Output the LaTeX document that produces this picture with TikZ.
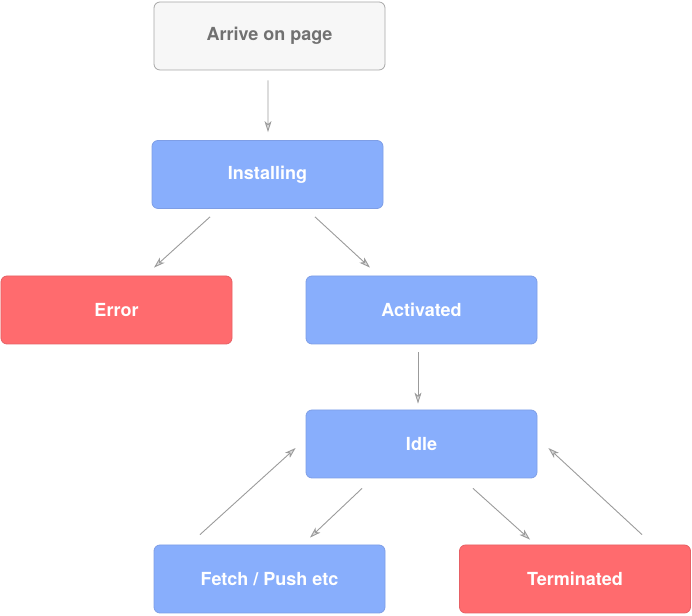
\documentclass[tikz,border=0pt]{standalone}
\usepackage{fontspec}
\setmainfont{TeX Gyre Heros}
\usepackage{tikz}
\usetikzlibrary{arrows.meta}
\usetikzlibrary{calc}

\definecolor{stateblue}{HTML}{88AEFC}
\definecolor{stateblueline}{HTML}{7E9EE6}
\definecolor{statered}{HTML}{FF6B6E}
\definecolor{stateredline}{HTML}{E66065}
\definecolor{startfill}{HTML}{F7F7F7}
\definecolor{startline}{HTML}{A6A6A6}
\definecolor{starttext}{HTML}{717171}
\definecolor{linkgray}{HTML}{9B9B9B}

\tikzset{
  state/.style={rectangle,rounded corners=6bp,minimum width=231bp,minimum height=68bp,
    font=\fontsize{18bp}{21bp}\selectfont\bfseries,text=white,line width=0.8bp},
  okstate/.style={state,fill=stateblue,draw=stateblueline},
  badstate/.style={state,fill=statered,draw=stateredline},
  startstate/.style={state,fill=startfill,draw=startline,text=starttext},
  link/.style={draw=linkgray,line width=0.9bp,
    -{Stealth[length=11bp,width=7bp,inset=3bp,color=linkgray,fill=linkgray!35]}}
}

\begin{document}
\begin{tikzpicture}[x=1bp,y=1bp]
			\useasboundingbox (0,0) rectangle (692,616);
			%states
			\node[startstate] (arrive) at (269.5,580) {Arrive on page};
			\node[okstate] (install) at (267.5,441.5) {Installing};
			\node[badstate] (error) at (116.5,306) {Error};
			\node[okstate] (active) at (421.5,306) {Activated};
			\node[okstate] (idle) at (421.5,172) {Idle};
			\node[okstate] (fetch) at (269.5,37) {Fetch / Push etc};
			\node[badstate] (term) at (575,37) {Terminated};
			%transitions
			\draw[link] ($(arrive.south)+(-1.5,-10)$)--($(install.north)+(0.5,8)$);
			\draw[link] ($(install.south)+(-57.5,-8)$)--($(error.north)+(37.5,8)$);
			\draw[link] ($(install.south)+(47.5,-8)$)--($(active.north)+(-51.5,8)$);
			\draw[link] ($(active.south)+(-3.5,-8)$)--($(idle.north)+(-3.5,6)$);
			\draw[link] ($(idle.south)+(-59.5,-10)$)--($(fetch.north)+(40.5,7)$);
			\draw[link] ($(fetch.north)+(-69.5,10)$)--($(idle.west)+(-10,-4)$);
			\draw[link] ($(idle.south)+(51.5,-10)$)--($(term.north)+(-45,5)$);
			\draw[link] ($(term.north)+(67,10)$)--($(idle.east)+(11,-4)$);

		\end{tikzpicture}
\end{document}
